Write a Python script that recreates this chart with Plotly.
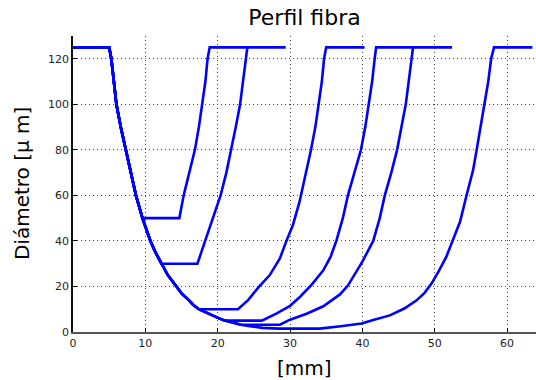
import plotly.graph_objects as go

# Common down-taper shared by every fibre profile [mm, um]
taper_x = [0.0, 5.0, 5.3, 5.65, 6.0, 6.6, 7.3, 7.9, 8.7, 9.6, 10.1, 10.7, 11.4, 12.2,
           13.1, 14.3, 15.0, 16.0, 16.6, 17.4, 18.4, 19.1, 20.2, 21.0, 22.1, 23.2, 24.2,
           25.4, 26.2, 28.5]
taper_y = [125, 125, 120, 110, 100, 90, 80, 70, 60, 50, 45, 40, 35, 30,
           25, 20, 17, 14, 12, 10, 8.5, 7.4, 6.0, 5.0, 4.0, 3.2, 2.7,
           2.2, 1.8, 1.5]

# Waist of each profile: diameter and where the flat section starts
waist_d = [50, 30, 10, 5.0, 3.2, 1.5]
waist_start = [9.6, 12.2, 17.4, 21.0, 23.2, 28.5]

# Up-taper of each profile (starts at the end of the waist)
rise1_x = [14.7, 15.3, 16.1, 16.85, 17.4, 17.9, 18.3, 18.6, 18.9]
rise1_y = [50, 60, 70, 80, 90, 100, 110, 120, 125]
rise2_x = [17.2, 18.3, 19.3, 20.4, 21.2, 21.9, 22.5, 23.1, 23.5, 23.85, 24.1]
rise2_y = [30, 40, 50, 60, 70, 80, 90, 100, 110, 120, 125]
rise3_x = [22.8, 24.2, 25.6, 27.2, 28.6, 29.5, 30.4, 31.3, 32.0, 32.9, 33.5, 34.0, 34.4, 34.7, 35.0]
rise3_y = [10, 14, 19.5, 25, 32.3, 40, 47, 57, 66.7, 80, 90, 100, 110, 120, 125]
rise4_x = [26.1, 28.1, 30.0, 31.4, 33.0, 34.6, 35.6, 36.4, 37.3, 38.0, 38.9, 39.8, 40.4, 40.9, 41.35, 41.7, 41.9]
rise4_y = [5.0, 8.1, 11.5, 15.5, 20.8, 27.1, 33, 40, 50, 60, 70, 80, 90, 100, 110, 120, 125]
rise5_x = [28.6, 30.0, 32.3, 34.6, 36.9, 38.0, 40.0, 41.5, 42.4, 43.1, 44.0, 44.8, 45.4, 46.0, 46.4, 46.8, 47.0]
rise5_y = [3.2, 5.4, 8.0, 11.3, 16.5, 20.4, 30.9, 40, 50, 60, 70, 80, 90, 100, 110, 120, 125]
rise6_x = [34.1, 37.0, 39.9, 41.5, 43.8, 45.8, 47.5, 48.6, 49.6, 50.5, 51.6, 52.5, 53.5,
           54.4, 55.3, 55.8, 56.4, 56.9, 57.4, 57.8, 58.2]
rise6_y = [1.5, 2.5, 3.7, 5.3, 7.3, 10.3, 13.9, 17.2, 21.5, 26.4, 33, 40.3, 48.4,
           60, 71, 80, 91.6, 100, 110, 120, 125]

# End of the final flat (full-diameter) section
top_end = [24.2, 29.4, 40.3, 47.2, 52.4, 63.5]

rises = [(rise1_x, rise1_y), (rise2_x, rise2_y), (rise3_x, rise3_y),
         (rise4_x, rise4_y), (rise5_x, rise5_y), (rise6_x, rise6_y)]

x_ticks = [0, 10, 20, 30, 40, 50, 60]
y_ticks = [0, 20, 40, 60, 80, 100, 120]

fig = go.Figure()
for d, xs, (rx, ry), xe in zip(waist_d, waist_start, rises, top_end):
    down = [(x, y) for x, y in zip(taper_x, taper_y) if y > d]
    px = [p[0] for p in down] + [xs] + rx + [xe]
    py = [p[1] for p in down] + [d] + ry + [ry[-1]]
    fig.add_trace(go.Scatter(x=px, y=py, mode="lines",
                             line=dict(color="#0000ff", width=2.6),
                             showlegend=False, hoverinfo="skip"))

axis_common = dict(
    showgrid=True, gridcolor="#444444", griddash="1px,3px", gridwidth=1,
    zeroline=False, ticks="inside", ticklen=4, tickcolor="#000000",
    tickfont=dict(family="DejaVu Sans", size=11, color="#222222"),
    mirror=False, showline=True,
)

fig.update_xaxes(range=[0, 64], tickvals=x_ticks, linecolor="#555555", linewidth=1.5,
                 **axis_common)
fig.update_yaxes(range=[0, 130], tickvals=y_ticks, linecolor="#111111", linewidth=1.5,
                 **axis_common)

fig.update_layout(
    width=536, height=380,
    margin=dict(l=73, r=0, t=36, b=48),
    paper_bgcolor="white", plot_bgcolor="white",
    title=dict(text="Perfil fibra", x=0.5, xref="paper", xanchor="center",
               y=0.955, yref="container", yanchor="middle",
               font=dict(family="DejaVu Sans", size=22, color="#000000")),
    annotations=[
        dict(text="[mm]", xref="paper", yref="paper", x=0.5, y=-0.12,
             xanchor="center", yanchor="middle", showarrow=False,
             font=dict(family="DejaVu Sans", size=20, color="#000000")),
        dict(text="Diámetro [μ m]", xref="paper", yref="paper", x=-0.11, y=0.5,
             xanchor="center", yanchor="middle", textangle=-90, showarrow=False,
             font=dict(family="DejaVu Sans", size=20, color="#000000")),
    ],
)

fig.write_html("out.html")
